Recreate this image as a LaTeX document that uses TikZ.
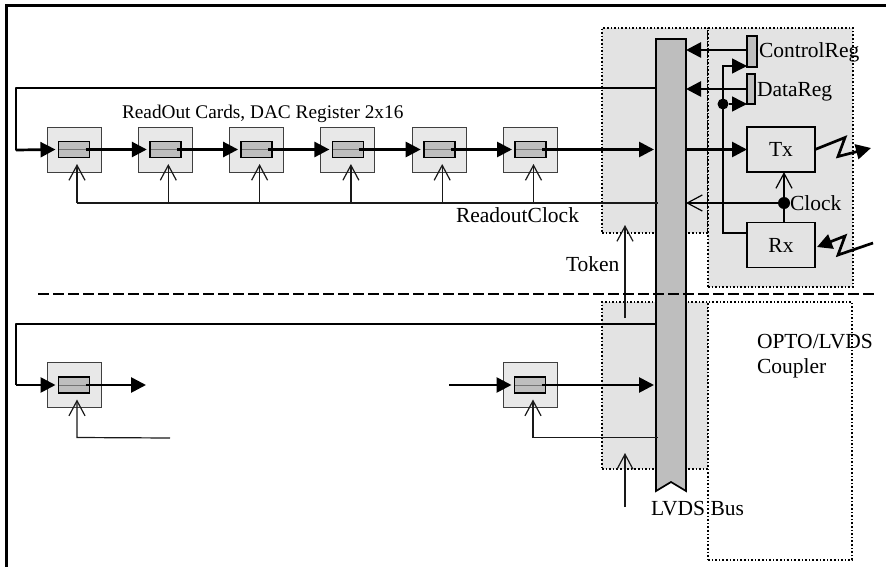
\documentclass[tikz,border=0pt]{standalone}
\usepackage{fontspec}
\setmainfont{Liberation Serif}
\usetikzlibrary{arrows.meta, positioning}
\definecolor{zonegray}{HTML}{E3E3E3}
\definecolor{cardgray}{HTML}{E8E8E8}
\definecolor{busgray}{HTML}{BEBEBE}
\tikzstyle{zone}=[draw,fill=zonegray,line width=1.6pt,dotted,rectangle,inner sep=0pt,outer sep=0pt]
\tikzstyle{card}=[draw=black!75,fill=cardgray,line width=.9pt,rectangle,inner sep=0pt,outer sep=0pt,minimum width=54pt,minimum height=45pt]
\tikzstyle{reg}=[draw,fill=busgray,line width=1.7pt,rectangle,inner sep=0pt,outer sep=0pt,minimum width=31pt,minimum height=16pt,
    path picture={\draw[black!55,line width=.8pt] (path picture bounding box.west) -- (path picture bounding box.east);}]
\tikzstyle{vreg}=[draw,fill=busgray,line width=1.3pt,rectangle,inner sep=0pt,outer sep=0pt]
\tikzstyle{unit}=[draw,fill=zonegray,line width=1.4pt,rectangle,inner sep=0pt,outer sep=0pt,minimum width=68pt,minimum height=45pt,font=\fontsize{21.5}{24}\selectfont]
\tikzstyle{dot}=[circle,fill=black,inner sep=0pt,minimum size=11pt]
\tikzstyle{lbl}=[inner sep=0pt,outer sep=0pt,anchor=base west,font=\fontsize{21.5}{24}\selectfont]
\tikzstyle{wire}=[line width=2.7pt,-{Triangle[length=15pt,width=15pt]}]
\tikzstyle{line}=[line width=2.7pt]
\tikzstyle{clk}=[line width=1.2pt,black!90,-{Straight Barb[length=15pt,width=16pt]}]
\tikzstyle{clkline}=[line width=1.2pt,black!90]
\begin{document}
\begin{tikzpicture}[x=1pt,y=-1pt,node distance=91.3pt]
    \useasboundingbox (0,0) rectangle (886,567);
    % frame
    \coordinate (fa) at (6,567);
    \coordinate (fb) at (6,6);
    \coordinate (fc) at (886,6);
    \draw[line width=3pt] (fa) -- (fb) -- (fc);
    % zones
    \node[zone, anchor=north west, minimum width=106pt, minimum height=205pt] (za) at (602,28) {};
    \node[zone, anchor=north west, minimum width=145pt, minimum height=259pt] (zb) at (708,28) {};
    \node[zone, anchor=north west, minimum width=106pt, minimum height=167pt] (zc) at (602,302) {};
    \node[zone, fill=white, anchor=north west, minimum width=144pt, minimum height=258pt] (zd) at (708,302) {};
    % bus
    \node[anchor=north west, inner sep=0pt, outer sep=0pt, minimum width=30pt, minimum height=452pt] (bus) at (656,39) {};
    \draw[fill=busgray, line width=1.7pt] (bus.north west) -- (bus.north east) -- (bus.south east) -- ++(-15,-9) -- (bus.south west) -- cycle;
    % upper cards
    \node[card] (c1) at (74,149.5) {};
    \node[card, right of=c1] (c2) {};
    \node[card, right of=c2] (c3) {};
    \node[card, right of=c3] (c4) {};
    \node[card, right of=c4] (c5) {};
    \node[card, right of=c5] (c6) {};
    \node[reg] (r1) at (c1) {};
    \node[reg] (r2) at (c2) {};
    \node[reg] (r3) at (c3) {};
    \node[reg] (r4) at (c4) {};
    \node[reg] (r5) at (c5) {};
    \node[reg] (r6) at (c6) {};
    % lower cards
    \node[card] (c7) at (74,385) {};
    \node[card] (c8) at (530,385) {};
    \node[reg] (r7) at (c7) {};
    \node[reg] (r8) at (c8) {};
    % right side
    \node[vreg, anchor=north west, minimum width=10pt, minimum height=31pt] (ctrl) at (747,36) {};
    \node[vreg, anchor=north west, minimum width=8pt, minimum height=30pt] (data) at (747,74) {};
    \node[unit, anchor=north west] (tx) at (747,127) {Tx\hspace{8pt}};
    \node[unit, anchor=north west] (rx) at (747,222.5) {Rx\hspace{8pt}};
    \node[dot] (dd) at (723,104) {};
    \node[dot, minimum size=12pt] (dc) at (784,203) {};
    % free ends
    \coordinate (w1) at (16,88);
    \coordinate (w2) at (16,150);
    \coordinate (w3) at (16,324);
    \coordinate (w4) at (16,385);
    \coordinate (w5) at (449,385);
    \coordinate (w6) at (146,385);
    \coordinate (ck1) at ([shift={(3,31)}]c1.south);
    \coordinate (ck2) at ([shift={(3,31)}]c2.south);
    \coordinate (ck3) at ([shift={(3,31)}]c3.south);
    \coordinate (ck4) at ([shift={(3,31)}]c4.south);
    \coordinate (ck5) at ([shift={(3,31)}]c5.south);
    \coordinate (ck6) at ([shift={(3,31)}]c6.south);
    \coordinate (ck7) at ([shift={(3,30)}]c7.south);
    \coordinate (ck8) at (170,438);
    \coordinate (ck9) at ([shift={(3,30)}]c8.south);
    \coordinate (tk1) at (625,318);
    \coordinate (tk2) at (625,225);
    \coordinate (tk3) at (625,507);
    \coordinate (tk4) at (625,453);
    \coordinate (txout) at (871,148);
    \coordinate (rxin) at (873,243);
    \coordinate (da) at (38,294);
    \coordinate (db) at (877,294);
    % token passing
    \draw[line, line join=round] ([yshift=-49pt]bus.north west) -- (w1) -- (w2) -- ++(10,0);
    \draw[wire] (w2) -- ([xshift=-3pt]r1.west);
    \draw[wire, shorten <=-4pt] (r1.east) -- ([xshift=-3pt]r2.west);
    \draw[wire, shorten <=-4pt] (r2.east) -- ([xshift=-3pt]r3.west);
    \draw[wire, shorten <=-4pt] (r3.east) -- ([xshift=-3pt]r4.west);
    \draw[wire, shorten <=-4pt] (r4.east) -- ([xshift=-3pt]r5.west);
    \draw[wire, shorten <=-4pt] (r5.east) -- ([xshift=-3pt]r6.west);
    \draw[wire, shorten <=-4pt] (r6.east) -- ([xshift=-2pt]bus.west |- r6);
    \draw[line, line join=round] (bus.west |- w3) -- (w3) -- (w4);
    \draw[wire] (w4) -- ([xshift=-3pt]r7.west);
    \draw[wire, shorten <=-4pt] (r7.east) -- (w6);
    \draw[wire] (w5) -- ([xshift=-3pt]r8.west);
    \draw[wire, shorten <=-4pt] (r8.east) -- ([xshift=-2pt]bus.west |- r8);
    % clock
    \draw[clkline] ([xshift=2pt]bus.west |- ck1) -- (ck1);
    \draw[clk] (ck1) -- ([shift={(3,-8)}]c1.south);
    \draw[clk] (ck2) -- ([shift={(3,-8)}]c2.south);
    \draw[clk] (ck3) -- ([shift={(3,-8)}]c3.south);
    \draw[clk] (ck4) -- ([shift={(3,-8)}]c4.south);
    \draw[clk] (ck5) -- ([shift={(3,-8)}]c5.south);
    \draw[clk] (ck6) -- ([shift={(3,-8)}]c6.south);
    \draw[clk] (ck8) -- (ck7) -- ([shift={(3,-8)}]c7.south);
    \draw[clk] ([xshift=2pt]bus.west |- ck9) -- (ck9) -- ([shift={(3,-8)}]c8.south);
    \draw[clk] (tk1) -- (tk2);
    \draw[clk] (tk3) -- (tk4);
    % registers and link
    \draw[wire] (ctrl.west |- 0,50) -- (bus.east |- 0,50);
    \draw[wire] (data.west |- 0,89) -- (bus.east |- 0,89);
    \draw[wire] (bus.east |- tx.west) -- (tx.west);
    \draw[clk, black] (dc) -- (bus.east |- dc);
    \draw[clk, black] (rx.north -| dc) -- (tx.south -| dc);
    \draw[wire, line width=1.4pt] (rx.west |- 0,233) -- (dd.south |- 0,233) -- (dd.north |- 0,66) -- (ctrl.west |- 0,66);
    \draw[wire, line width=1.4pt] (dd) -- (data.west |- dd);
    \draw[wire] (tx.east) -- ++(30,-12) -- ++(-7,19) -- (txout);
    \draw[wire] (rxin) -- ++(-35,12) -- ++(7,-19) -- ([xshift=2pt]rx.east |- 0,247);
    \draw[line, dash pattern=on 11pt off 4pt] (da) -- (db);
    % labels
    \node[lbl, font=\fontsize{19.3}{21}\selectfont] (t1) at (122,119) {ReadOut Cards, DAC Register 2x16};
    \node[lbl] (t2) at (456,222) {ReadoutClock};
    \node[lbl] (t3) at (566,271) {Token};
    \node[lbl] (t4) at (759,58) {ControlReg};
    \node[lbl] (t5) at (757,97) {DataReg};
    \node[lbl] (t6) at (790,210) {Clock};
    \node[lbl] (t7) at (757,348) {OPTO/LVDS};
    \node[lbl] (t8) at (757,373) {Coupler};
    \node[lbl] (t9) at (651,515) {LVDS Bus};
\end{tikzpicture}
\end{document}
